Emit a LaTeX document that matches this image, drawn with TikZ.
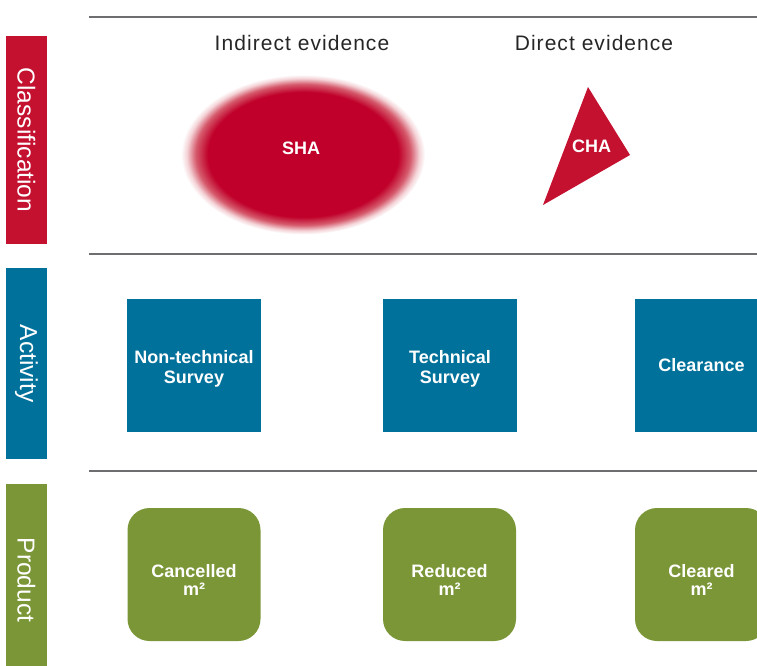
\documentclass[tikz,border=0pt]{standalone}
\usepackage{fontspec}
\setmainfont{Liberation Sans}
\newfontfamily\headfont[LetterSpace=5]{Liberation Sans}
\definecolor{clsred}{HTML}{C3112F}
\definecolor{shared}{HTML}{C0002A}
\definecolor{shafade}{HTML}{D55A6C}
\definecolor{shaedge}{HTML}{F4D3D7}
\definecolor{actblue}{HTML}{00719A}
\definecolor{prodgreen}{HTML}{7B9637}
\definecolor{rulegray}{HTML}{6E6E70}
\pgfdeclareradialshading{shablur}{\pgfpoint{0bp}{0bp}}{color(0bp)=(shared); color(19.5bp)=(shared); color(22bp)=(shafade); color(23.8bp)=(shaedge); color(25bp)=(white); color(50bp)=(white)}
\tikzset{
  rowrule/.style={draw=rulegray, line width=2pt},
  sidebar/.style={rotate=-90, text=white, minimum height=41pt, inner sep=0pt,
    font=\fontsize{24.5}{28}\selectfont},
  headtext/.style={anchor=base, font=\headfont\fontsize{21}{24}\selectfont, text=black!85},
  actbox/.style={fill=actblue, text=white, minimum width=133.5pt, minimum height=133pt,
    align=center, inner sep=0pt, font=\bfseries\fontsize{18}{20}\selectfont},
  prodbox/.style={fill=prodgreen, text=white, rounded corners=22pt, minimum width=133pt,
    minimum height=133pt, align=center, inner sep=0pt, font=\bfseries\fontsize{18}{18}\selectfont},
  areatext/.style={anchor=base, text=white, font=\bfseries\fontsize{18}{21}\selectfont}
}
\begin{document}
\begin{tikzpicture}[x=1pt, y=-1pt]
	\useasboundingbox (0,0) rectangle (757,666);
	\clip (0,0) rectangle (757,666);
	\coordinate (T1) at (588,87);
	\coordinate (T2) at (630,155);
	\coordinate (T3) at (543,205);
	% rules between rows
	\draw [rowrule] (89,17) -- (757,17);
	\draw [rowrule] (89,254) -- (757,254);
	\draw [rowrule] (89,471) -- (757,471);
	% side bars
	\node [sidebar, fill=clsred, minimum width=208pt] (cls) at (26.5,140) {Classification};
	\node [sidebar, fill=actblue, minimum width=191pt] (act) at (26.5,363.5) {Activity};
	\node [sidebar, fill=prodgreen, minimum width=192pt] (prod) at (26.5,580) {Product};
	% classification row
	\node [headtext] (indirect) at (302,51) {Indirect evidence};
	\node [headtext] (direct) at (594,51) {Direct evidence};
	\shade [shading=shablur] (303,154.5) ellipse [x radius=122, y radius=80];
	\fill [clsred] (T1) -- (T2) -- (T3) -- cycle;
	\node [areatext] (sha) at (301,154) {SHA};
	\node [areatext] (cha) at (591.5,153) {CHA};
	% activity row
	\node [actbox] (nts) at (194,365.5) {\rule{0pt}{19pt}Non-technical\\Survey};
	\node [actbox] (ts) at (450,365.5) {\rule{0pt}{19pt}Technical\\Survey};
	\node [actbox] (clr) at (701.5,365.5) {Clearance};
	% product row
	\node [prodbox] (cancelled) at (194,574.5) {\rule{0pt}{23pt}Cancelled\\m²};
	\node [prodbox] (reduced) at (449.5,574.5) {\rule{0pt}{23pt}Reduced\\m²};
	\node [prodbox] (cleared) at (701.5,574.5) {\rule{0pt}{23pt}Cleared\\m²};
\end{tikzpicture}
\end{document}
